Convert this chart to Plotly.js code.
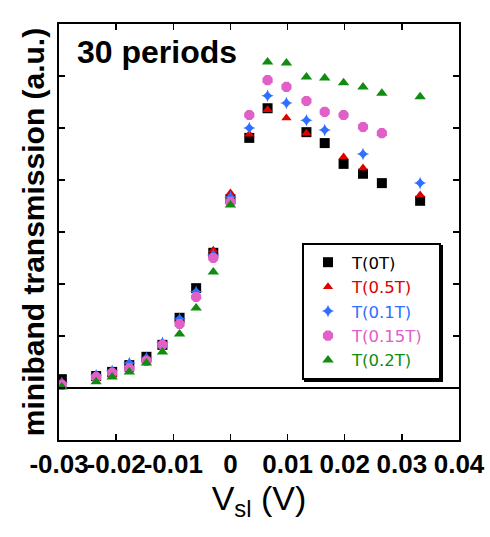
<!DOCTYPE html>
<html>
<head>
<meta charset="utf-8">
<script src="https://cdn.plot.ly/plotly-3.0.1.min.js"></script>
<style>html,body{margin:0;padding:0;background:#fff;}#chart{width:490px;height:537px;}</style>
</head>
<body>
<div id="chart"></div>
<script>
// Data
const x0T   = [-0.0295,-0.0235,-0.0207,-0.0177,-0.0147,-0.0119,-0.0089,-0.006,-0.003,0,0.0033,0.0065,0.0133,0.0165,0.0198,0.0232,0.0265,0.0332];
const y0T   = [0.17,0.23,0.31,0.44,0.60,0.83,1.35,1.92,2.60,3.63,4.81,5.38,4.92,4.71,4.31,4.12,3.94,3.60];
const x05T  = [-0.0295,-0.0235,-0.0207,-0.0177,-0.0147,-0.0119,-0.0089,-0.006,-0.003,0,0.0033,0.0065,0.0098,0.0133,0.0198,0.0232,0.0332];
const y05T  = [0.12,0.19,0.25,0.35,0.54,0.83,1.31,1.79,2.65,3.75,4.88,5.35,5.19,4.90,4.44,4.23,3.71];
const x01T  = [-0.0295,-0.0235,-0.0207,-0.0177,-0.0147,-0.0119,-0.0089,-0.006,-0.003,0,0.0033,0.0065,0.0098,0.0133,0.0165,0.0232,0.0332];
const y01T  = [0.10,0.25,0.33,0.48,0.58,0.87,1.33,1.85,2.56,3.67,5.00,5.62,5.48,5.15,4.96,4.50,3.94];
const x015T = [-0.0295,-0.0235,-0.0207,-0.0177,-0.0147,-0.0119,-0.0089,-0.006,-0.003,0,0.0033,0.0065,0.0098,0.0133,0.0165,0.0198,0.0232,0.0265];
const y015T = [0.06,0.21,0.29,0.38,0.52,0.83,1.23,1.75,2.50,3.58,5.25,5.92,5.79,5.52,5.31,5.25,5.02,4.90];
const x02T  = [-0.0295,-0.0235,-0.0207,-0.0177,-0.0147,-0.0119,-0.0089,-0.006,-0.003,0,0.0065,0.0098,0.0133,0.0165,0.0198,0.0232,0.0265,0.0332];
const y02T  = [0.02,0.12,0.21,0.31,0.48,0.69,1.04,1.54,2.23,3.52,6.27,6.25,5.98,5.96,5.87,5.79,5.67,5.60];

const seriesNames = ['T(0T)','T(0.5T)','T(0.1T)','T(0.15T)','T(0.2T)'];
const seriesColors = ['#000000','#e00000','#2f6fff','#e060c8','#108c10'];
const xTickVals = [-0.03,-0.02,-0.01,0,0.01,0.02,0.03,0.04];
const xTickText = ['-0.03','-0.02','-0.01','0','0.01','0.02','0.03','0.04'];
const yTickVals = [-1,0,1,2,3,4,5,6,7];

const xs = [x0T,x05T,x01T,x015T,x02T];
const ys = [y0T,y05T,y01T,y015T,y02T];
const symbols = ['square','triangle-up','star-diamond','octagon','triangle-up'];
const sizes = [10,9,9,11,10];

const traces = xs.map((x,i)=>({
  x: x, y: ys[i], type:'scatter', mode:'markers',
  name: '<span style="color:'+seriesColors[i]+'">'+seriesNames[i]+'\u00a0\u00a0</span>',
  marker:{symbol:symbols[i], size:sizes[i], color:seriesColors[i], line:{width:0}}
}));

const layout = {
  width:490, height:537,
  margin:{l:59, r:31, t:24, b:97},
  paper_bgcolor:'#fff', plot_bgcolor:'#fff',
  showlegend:true,
  legend:{x:0.6075, y:0.4736, xanchor:'left', yanchor:'top',
    bgcolor:'#fff', bordercolor:'#000', borderwidth:2,
    font:{family:'DejaVu Sans, sans-serif', size:16.5, color:'#000'},
    itemwidth:38, tracegroupgap:0},
  xaxis:{range:[-0.03,0.04], tickvals:xTickVals, ticktext:xTickText, tickangle:0,
    ticks:'inside', ticklen:6, tickwidth:1.5, tickcolor:'#000',
    showline:true, linecolor:'#000', linewidth:2, mirror:'ticks',
    showgrid:false, zeroline:false,
    tickfont:{family:'Liberation Sans Narrow, Arial Narrow, Liberation Sans, sans-serif', size:26, weight:'bold', color:'#000'},
    title:{text:'V<sub>sl</sub> (V)', font:{family:'Liberation Sans, Arial, sans-serif', size:34, color:'#000'}, standoff:8}},
  yaxis:{range:[-1,7], tickvals:yTickVals, showticklabels:false,
    ticks:'inside', ticklen:6, tickwidth:1.5, tickcolor:'#000',
    showline:true, linecolor:'#000', linewidth:2, mirror:'ticks',
    showgrid:false, zeroline:true, zerolinecolor:'#000', zerolinewidth:1.5,
    title:{text:'miniband transmission (a.u.)', font:{family:'Liberation Sans, Arial, sans-serif', size:30, weight:'bold', color:'#000'}, standoff:4}},
  annotations:[{xref:'paper', yref:'paper', x:0.04, y:0.933, xanchor:'left', yanchor:'middle',
    text:'<b>30 periods</b>', showarrow:false,
    font:{family:'Liberation Sans, Arial, sans-serif', size:32, color:'#000'}}]
};

Plotly.newPlot('chart', traces, layout, {displayModeBar:false, staticPlot:true}).then(gd => {
  // thick right/bottom edge of the legend frame (drop-shadow look), sized from the drawn legend
  const bg = gd.querySelector('.legend .bg');
  const host = gd.getBoundingClientRect();
  if (!bg) return;
  const r = bg.getBoundingClientRect();
  const fl = gd._fullLayout, sz = fl._size;
  const px2x = p => (p - host.left - sz.l) / sz.w;
  const px2y = p => 1 - (p - host.top - sz.t) / sz.h;
  return Plotly.relayout(gd, {shapes:[{type:'rect', xref:'paper', yref:'paper', layer:'above',
    x0: px2x(r.left + 1), x1: px2x(r.right + 3), y0: px2y(r.bottom + 3), y1: px2y(r.top + 1),
    fillcolor:'#000', line:{width:0}}]});
});
</script>
</body>
</html>
